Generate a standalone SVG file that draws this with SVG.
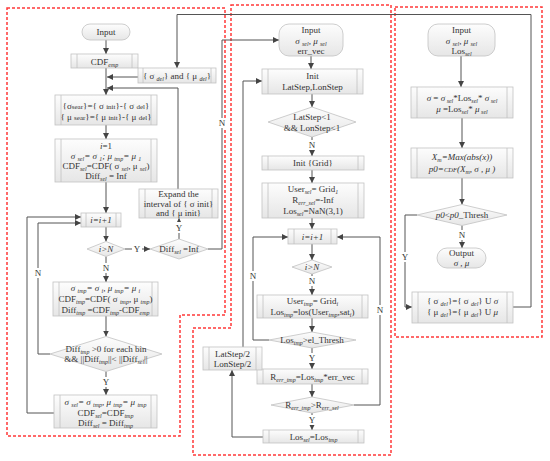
<svg xmlns="http://www.w3.org/2000/svg" width="550" height="461" viewBox="0 0 550 461">
<defs>
<linearGradient id="g" x1="0" y1="0" x2="0" y2="1">
<stop offset="0" stop-color="#fdfdfd"/>
<stop offset="1" stop-color="#e6e6e6"/>
</linearGradient>
<marker id="a" viewBox="0 0 6 6" refX="6" refY="3" markerWidth="6" markerHeight="6" markerUnits="userSpaceOnUse" orient="auto">
<path d="M0,0 L6,3 L0,6 z" fill="#444"/>
</marker>
<style>
.b{fill:url(#g);stroke:#c2c2c2;stroke-width:0.8}
.il{stroke:#c2c2c2;stroke-width:0.8}
.t{font-family:"Liberation Serif",serif;font-size:9px;fill:#333;text-anchor:middle}
.i{font-style:italic}
.s{font-size:6px;font-style:italic;baseline-shift:-2px}
.c{fill:none;stroke:#555;stroke-width:1;marker-end:url(#a)}
.l{fill:none;stroke:#555;stroke-width:1}
.r{fill:none;stroke:#ff3838;stroke-width:1.5;stroke-dasharray:3 2}
.lb{font-family:"Liberation Serif",serif;font-size:9px;fill:#333;text-anchor:middle}
.w{fill:#fff}
</style>
</defs>
<rect width="550" height="461" fill="#fff"/>

<!-- region borders -->
<g id="regions">
<path class="r" d="M7,8 H225 V315 H180 V436 H7 Z"/>
<path class="r" d="M231,5 H391 V455 H193 V328 H231 Z"/>
<path class="r" d="M395,7 H542 V337 H395 Z"/>
</g>

<!-- connectors -->
<g id="connectors">
<path class="c" d="M106,40 V54"/>
<path class="c" d="M106,68 V95"/>
<path class="c" d="M138,77 H107"/>
<path class="c" d="M178,189 V88 H107"/>
<path class="c" d="M513,307 H531 V14.5 H177 V68"/>
<path class="c" d="M106,125 V139"/>
<path class="c" d="M106,182 V213"/>
<path class="c" d="M106,227 V241.5"/>
<path class="c" d="M125,249 H150"/>
<path class="c" d="M106,256.5 V282"/>
<path class="c" d="M179,239 V218"/>
<path class="c" d="M208,249 H222 V40 H279"/>
<path class="c" d="M106,316 V336.5"/>
<path class="c" d="M106,371.5 V395"/>
<path class="c" d="M50,354 H38 V223 H81"/>
<path class="c" d="M54,413 H27 V217 H81"/>

<path class="c" d="M311,56 V69"/>
<path class="c" d="M312,94 V107"/>
<path class="c" d="M312,137 V156"/>
<path class="c" d="M312,170 V183"/>
<path class="c" d="M312,218 V229"/>
<path class="c" d="M312,244 V260"/>
<path class="c" d="M312,274 V295"/>
<path class="c" d="M312,318 V332"/>
<path class="c" d="M312,348 V369"/>
<path class="c" d="M312,384 V397"/>
<path class="c" d="M312,413 V430"/>
<path class="c" d="M354,405 H380 V237 H337"/>
<path class="c" d="M269,340 H253 V237 H288"/>
<path class="c" d="M263,437 H232 V370"/>
<path class="c" d="M243,347 V81 H262"/>

<path class="c" d="M461,56 V87"/>
<path class="c" d="M462,118 V148"/>
<path class="c" d="M462,178 V204.5"/>
<path class="c" d="M462,225.5 V248"/>
<path class="c" d="M417,215 H405 V307 H412"/>

<!-- labels -->
<rect class="w" x="132" y="244" width="10" height="10"/><text class="lb" x="137" y="252">Y</text>
<rect class="w" x="101" y="263" width="10" height="10"/><text class="lb" x="106" y="271">N</text>
<rect class="w" x="174" y="222" width="10" height="11"/><text class="lb" x="179" y="231">Y</text>
<rect class="w" x="217" y="118" width="10" height="10"/><text class="lb" x="222" y="126">N</text>
<rect class="w" x="101" y="377" width="10" height="10"/><text class="lb" x="106" y="385">Y</text>
<rect class="w" x="33" y="268" width="10" height="10"/><text class="lb" x="38" y="276">N</text>
<rect class="w" x="307" y="140" width="10" height="10"/><text class="lb" x="312" y="148">N</text>
<rect class="w" x="307" y="276" width="10" height="10"/><text class="lb" x="312" y="284">N</text>
<rect class="w" x="307" y="353" width="10" height="10"/><text class="lb" x="312" y="361">Y</text>
<rect class="w" x="307" y="415" width="10" height="10"/><text class="lb" x="312" y="423">Y</text>
<rect class="w" x="375" y="305" width="10" height="10"/><text class="lb" x="380" y="313">N</text>
<rect class="w" x="248" y="271" width="10" height="10"/><text class="lb" x="253" y="279">N</text>
<rect class="w" x="457" y="230" width="10" height="10"/><text class="lb" x="462" y="238">N</text>
<rect class="w" x="400" y="252" width="10" height="10"/><text class="lb" x="405" y="260">Y</text>
</g>

<!-- left column -->
<g id="L_input">
<rect class="b" x="82" y="24" width="48" height="16" rx="8"/>
<text class="t" x="106" y="35">Input</text>
</g>
<g id="L_cdfemp">
<rect class="b" x="71" y="54" width="67" height="14"/>
<line class="il" x1="77" y1="54" x2="77" y2="68"/><line class="il" x1="132" y1="54" x2="132" y2="68"/>
<text class="t" x="104.5" y="64.5">CDF<tspan class="s">emp</tspan></text>
</g>
<g id="L_del">
<rect class="b" x="138" y="68" width="78" height="15"/>
<line class="il" x1="143" y1="68" x2="143" y2="83"/><line class="il" x1="211" y1="68" x2="211" y2="83"/>
<text class="t" x="177" y="79">{ σ <tspan class="s">del</tspan>} and { μ <tspan class="s">del</tspan>}</text>
</g>
<g id="L_sear">
<rect class="b" x="55" y="95" width="102" height="30"/>
<line class="il" x1="61" y1="95" x2="61" y2="125"/><line class="il" x1="151" y1="95" x2="151" y2="125"/>
<text class="t" x="106" y="108.5">{σ<tspan font-size="7">sear</tspan>}={ σ <tspan font-size="7">init</tspan>}-{ σ <tspan font-size="7">del</tspan>}</text>
<text class="t" x="106" y="120">{ μ <tspan font-size="7">sear</tspan>}={ μ <tspan font-size="7">init</tspan>}-{ μ <tspan font-size="7">del</tspan>}</text>
</g>
<g id="L_init">
<rect class="b" x="55" y="139" width="102" height="43"/>
<line class="il" x1="61" y1="139" x2="61" y2="182"/><line class="il" x1="151" y1="139" x2="151" y2="182"/>
<text class="t" x="106" y="149"><tspan class="i">i</tspan>=1</text>
<text class="t i" x="106" y="159">σ <tspan class="s">sel</tspan>= σ <tspan class="s">1</tspan>; μ <tspan class="s">tmp</tspan>= μ <tspan class="s">1</tspan></text>
<text class="t" x="106" y="169">CDF<tspan class="s">sel</tspan>=CDF( σ <tspan class="s">sel</tspan>, μ <tspan class="s">sel</tspan>)</text>
<text class="t" x="106" y="179">Diff<tspan class="s">sel</tspan> = Inf</text>
</g>
<g id="L_inc">
<rect class="b" x="81" y="213" width="40" height="14"/>
<line class="il" x1="86" y1="213" x2="86" y2="227"/><line class="il" x1="116" y1="213" x2="116" y2="227"/>
<text class="t i" x="101" y="223">i=i+1</text>
</g>
<g id="L_igtN">
<polygon class="b" points="87,249 106,241.5 125,249 106,256.5"/>
<text class="t i" x="106" y="252">i&gt;N</text>
</g>
<g id="L_diffinf">
<polygon class="b" points="150,249 179,239 208,249 179,259"/>
<text class="t" x="179" y="252">Diff<tspan class="s">sel</tspan> =Inf</text>
</g>
<g id="L_expand">
<rect class="b" x="139" y="189" width="79" height="29"/>
<line class="il" x1="145" y1="189" x2="145" y2="218"/><line class="il" x1="212" y1="189" x2="212" y2="218"/>
<text class="t" x="178.5" y="196.5">Expand the</text>
<text class="t" x="178.5" y="206.5">interval of { σ init}</text>
<text class="t" x="178.5" y="216">and { μ init}</text>
</g>
<g id="L_tmp">
<rect class="b" x="53" y="282" width="105" height="34"/>
<line class="il" x1="59" y1="282" x2="59" y2="316"/><line class="il" x1="152" y1="282" x2="152" y2="316"/>
<text class="t i" x="105.5" y="291">σ <tspan class="s">tmp</tspan>= σ <tspan class="s">i</tspan>, μ <tspan class="s">tmp</tspan>= μ <tspan class="s">i</tspan></text>
<text class="t" x="105.5" y="302">CDF<tspan class="s">tmp</tspan>=CDF( σ <tspan class="s">tmp</tspan>, μ <tspan class="s">tmp</tspan>)</text>
<text class="t" x="105.5" y="313">Diff<tspan class="s">tmp</tspan> =CDF<tspan class="s">tmp</tspan>-CDF<tspan class="s">emp</tspan></text>
</g>
<g id="L_cond">
<polygon class="b" points="50,354 106,336.5 162,354 106,371.5"/>
<text class="t" x="106" y="352">Diff<tspan class="s">tmp</tspan> &gt;0 for each bin</text>
<text class="t" x="106" y="362">&amp;&amp; ||Diff<tspan class="s">tmp</tspan>||&lt; ||Diff<tspan class="s">sel</tspan>||</text>
</g>
<g id="L_sel">
<rect class="b" x="54" y="395" width="103" height="33"/>
<line class="il" x1="60" y1="395" x2="60" y2="428"/><line class="il" x1="151" y1="395" x2="151" y2="428"/>
<text class="t i" x="105.5" y="405">σ <tspan class="s">sel</tspan>= σ <tspan class="s">tmp</tspan>, μ <tspan class="s">tmp</tspan>= μ <tspan class="s">tmp</tspan></text>
<text class="t" x="105.5" y="416">CDF<tspan class="s">sel</tspan>=CDF<tspan class="s">tmp</tspan></text>
<text class="t" x="105.5" y="426">Diff<tspan class="s">sel</tspan> = Diff<tspan class="s">tmp</tspan></text>
</g>

<!-- middle column -->
<g id="M_input">
<rect class="b" x="279" y="24" width="64" height="32" rx="10"/>
<text class="t" x="311" y="33">Input</text>
<text class="t i" x="311" y="43.5">σ <tspan class="s">sel</tspan>, μ <tspan class="s">sel</tspan></text>
<text class="t" x="311" y="54">err_vec</text>
</g>
<g id="M_init">
<rect class="b" x="262" y="69" width="101" height="25"/>
<line class="il" x1="268" y1="69" x2="268" y2="94"/><line class="il" x1="357" y1="69" x2="357" y2="94"/>
<text class="t" x="312.5" y="79">Init</text>
<text class="t" x="312.5" y="89.5">LatStep,LonStep</text>
</g>
<g id="M_step">
<polygon class="b" points="268,122 312,107 356,122 312,137"/>
<text class="t" x="312" y="120">LatStep&lt;1</text>
<text class="t" x="312" y="130.5">&amp;&amp; LonStep&lt;1</text>
</g>
<g id="M_grid">
<rect class="b" x="262" y="156" width="102" height="14"/>
<line class="il" x1="268" y1="156" x2="268" y2="170"/><line class="il" x1="358" y1="156" x2="358" y2="170"/>
<text class="t" x="313" y="166">Init {Grid}</text>
</g>
<g id="M_userinit">
<rect class="b" x="262" y="183" width="102" height="35"/>
<line class="il" x1="268" y1="183" x2="268" y2="218"/><line class="il" x1="358" y1="183" x2="358" y2="218"/>
<text class="t" x="313" y="192">User<tspan class="s">sel</tspan>= Grid<tspan class="s">1</tspan></text>
<text class="t" x="313" y="203">R<tspan class="s">err_sel</tspan>=-Inf</text>
<text class="t" x="313" y="214">Los<tspan class="s">sel</tspan>=NaN(3,1)</text>
</g>
<g id="M_inc">
<rect class="b" x="288" y="229" width="49" height="15"/>
<line class="il" x1="294" y1="229" x2="294" y2="244"/><line class="il" x1="331" y1="229" x2="331" y2="244"/>
<text class="t i" x="312.5" y="240">i=i+1</text>
</g>
<g id="M_igtN">
<polygon class="b" points="292,267 312,260 332,267 312,274"/>
<text class="t i" x="312" y="270">i&gt;N</text>
</g>
<g id="M_usertmp">
<rect class="b" x="257" y="295" width="111" height="23"/>
<line class="il" x1="263" y1="295" x2="263" y2="318"/><line class="il" x1="362" y1="295" x2="362" y2="318"/>
<text class="t" x="312.5" y="304">User<tspan class="s">tmp</tspan>= Grid<tspan class="s">i</tspan></text>
<text class="t" x="312.5" y="315">Los<tspan class="s">tmp</tspan>=los(User<tspan class="s">tmp</tspan>,sat<tspan class="s">i</tspan>)</text>
</g>
<g id="M_elth">
<polygon class="b" points="269,340 312,332 356,340 312,348"/>
<text class="t" x="312" y="343">Los<tspan class="s">tmp</tspan>&gt;el_Thresh</text>
</g>
<g id="M_rtmp">
<rect class="b" x="257" y="369" width="111" height="15"/>
<line class="il" x1="263" y1="369" x2="263" y2="384"/><line class="il" x1="362" y1="369" x2="362" y2="384"/>
<text class="t" x="312.5" y="379.5">R<tspan class="s">err_tmp</tspan>=Los<tspan class="s">tmp</tspan>*err_vec</text>
</g>
<g id="M_rcmp">
<polygon class="b" points="271,405 312,397 354,405 312,413"/>
<text class="t" x="312" y="408">R<tspan class="s">err_tmp</tspan>&gt;R<tspan class="s">err_sel</tspan></text>
</g>
<g id="M_lossel">
<rect class="b" x="263" y="430" width="101" height="13"/>
<line class="il" x1="269" y1="430" x2="269" y2="443"/><line class="il" x1="358" y1="430" x2="358" y2="443"/>
<text class="t" x="313.5" y="440">Los<tspan class="s">sel</tspan>=Los<tspan class="s">tmp</tspan></text>
</g>
<g id="M_half">
<rect class="b" x="203" y="347" width="59" height="23"/>
<line class="il" x1="209" y1="347" x2="209" y2="370"/><line class="il" x1="256" y1="347" x2="256" y2="370"/>
<text class="t" x="232.5" y="356.5">LatStep/2</text>
<text class="t" x="232.5" y="366.5">LonStep/2</text>
</g>

<!-- right column -->
<g id="R_input">
<rect class="b" x="428" y="24" width="67" height="32" rx="10"/>
<text class="t" x="461.5" y="33">Input</text>
<text class="t i" x="461.5" y="44">σ <tspan class="s">sel</tspan>, μ <tspan class="s">sel</tspan></text>
<text class="t" x="461.5" y="54">Los<tspan class="s">sel</tspan></text>
</g>
<g id="R_sigma">
<rect class="b" x="411" y="87" width="102" height="31"/>
<line class="il" x1="417" y1="87" x2="417" y2="118"/><line class="il" x1="507" y1="87" x2="507" y2="118"/>
<text class="t" x="462" y="101"><tspan class="i">σ</tspan> = <tspan class="i">σ</tspan><tspan class="s"> sel</tspan>*Los<tspan class="s">sel</tspan>* <tspan class="i">σ</tspan><tspan class="s"> sel</tspan></text>
<text class="t" x="462" y="111.5"><tspan class="i">μ</tspan> =Los<tspan class="s">sel</tspan>* <tspan class="i">μ</tspan><tspan class="s"> sel</tspan></text>
</g>
<g id="R_xm">
<rect class="b" x="411" y="148" width="102" height="30"/>
<line class="il" x1="417" y1="148" x2="417" y2="178"/><line class="il" x1="507" y1="148" x2="507" y2="178"/>
<text class="t i" x="462" y="160">X<tspan class="s">m</tspan>=Max(abs(x))</text>
<text class="t i" x="462" y="172">p0=<tspan font-size="6.5">CDF</tspan>(X<tspan class="s">m</tspan>, σ , μ )</text>
</g>
<g id="R_cond">
<polygon class="b" points="417,215 462,204.5 507,215 462,225.5"/>
<text class="t" x="462" y="218"><tspan class="i">p0</tspan>&lt;<tspan class="i">p0</tspan>_Thresh</text>
</g>
<g id="R_output">
<rect class="b" x="437" y="248" width="49" height="20" rx="10"/>
<text class="t" x="461.5" y="256">Output</text>
<text class="t i" x="461.5" y="266">σ , μ</text>
</g>
<g id="R_update">
<rect class="b" x="412" y="292" width="101" height="31"/>
<line class="il" x1="418" y1="292" x2="418" y2="323"/><line class="il" x1="507" y1="292" x2="507" y2="323"/>
<text class="t" x="462.5" y="304">{ σ <tspan class="s">del</tspan>}={ σ <tspan class="s">del</tspan>}  U <tspan class="i">σ</tspan></text>
<text class="t" x="462.5" y="315">{ μ <tspan class="s">del</tspan>}={ μ <tspan class="s">del</tspan>}  U <tspan class="i">μ</tspan></text>
</g>
</svg>
